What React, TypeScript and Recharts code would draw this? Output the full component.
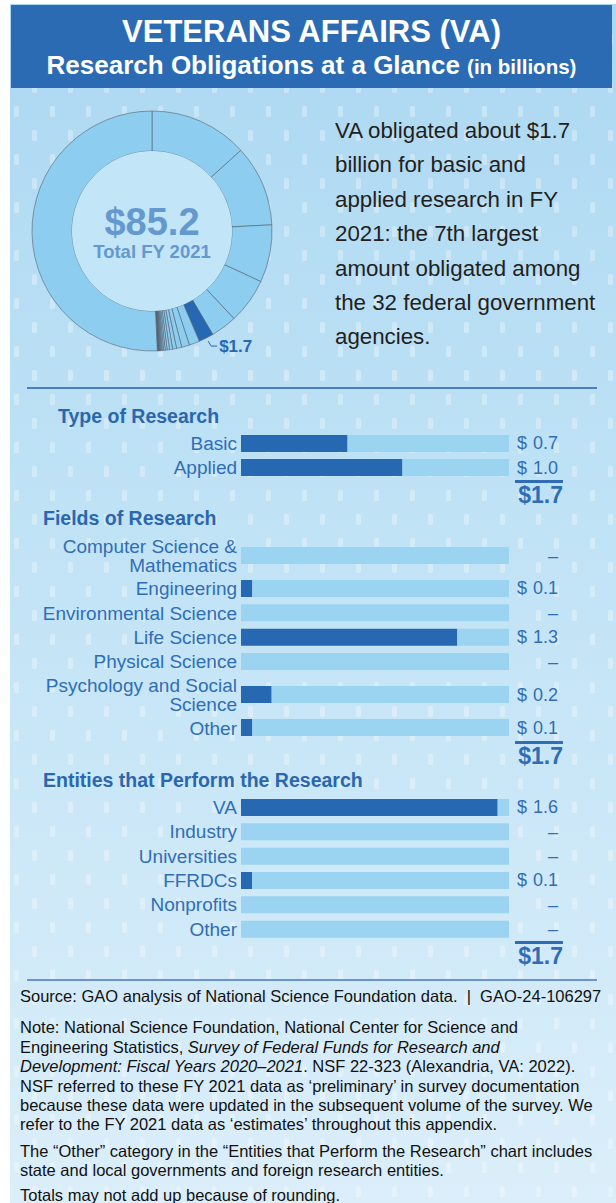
import React from 'react';
import { PieChart, Pie, Cell, BarChart, Bar, XAxis, YAxis, LabelList } from 'recharts';

// Research obligations by agency, FY 2021 ($ billions)
const agencyNames = [
  'Agency 1', 'Agency 2', 'Agency 3', 'Agency 4', 'Agency 5', 'VA', 'Agency 7', 'Agency 8',
  'Agency 9', 'Agency 10', 'Agency 11', 'Agency 12', 'Agency 13', 'Agency 14', 'Agency 15', 'Agency 16',
  'Agency 17', 'Agency 18', 'Agency 19', 'Agency 20', 'Agency 21', 'Agency 22', 'Agency 23', 'Agency 24',
  'Agency 25', 'Agency 26', 'Agency 27', 'Agency 28', 'Agency 29', 'Agency 30', 'Agency 31', 'Agency 32',
];
const agencyValues = [
  11.3, 9.3, 6.6, 5.2, 3.0, 1.7, 1.2, 0.9,
  0.6, 0.45, 0.35, 0.28, 0.22, 0.18, 0.14, 0.11,
  0.09, 0.07, 0.06, 0.05, 0.04, 0.03, 0.03, 0.02,
  0.02, 0.015, 0.01, 0.01, 0.01, 0.005, 0.005, 43.2,
];
const VA_INDEX = 5;

// VA breakdowns ($ billions)
const vaTotal = 1.66;
const typeNames = ['Basic', 'Applied'];
const typeValues = [0.66, 1.0];

const fieldNames = [
  'Computer Science & Mathematics', 'Engineering', 'Environmental Science', 'Life Science',
  'Physical Science', 'Psychology and Social Science', 'Other',
];
const fieldValues = [0, 0.07, 0, 1.34, 0, 0.19, 0.07];

const entityNames = ['VA', 'Industry', 'Universities', 'FFRDCs', 'Nonprofits', 'Other'];
const entityValues = [1.59, 0, 0, 0.07, 0, 0];

const FONT = '"Liberation Sans", Arial, Helvetica, sans-serif';
const DARK = '#2668b1';
const TRACK = '#9ad4f0';
const LABEL = '#2f6eb6';
const HEAD = '#2a67ae';
const RING = '#8dcdef';
const RAD = Math.PI / 180;

const pattern =
  "url(\"data:image/svg+xml,%3Csvg xmlns='http://www.w3.org/2000/svg' width='36' height='48'%3E" +
  "%3Crect x='4' y='6' width='5' height='11' rx='1.5' fill='white' fill-opacity='0.3'/%3E" +
  "%3Crect x='22' y='30' width='5' height='11' rx='1.5' fill='white' fill-opacity='0.3'/%3E%3C/svg%3E\")";

const sum = (arr: number[]) => arr.reduce((a, b) => a + b, 0);

const NameTick = (props: any) => {
  const { x, y, payload } = props;
  const name: string = payload.value;
  let lines = [name];
  if (name.length > 24) {
    const cut = name.lastIndexOf(' ');
    lines = [name.slice(0, cut), name.slice(cut + 1)];
  }
  const lh = 18.5;
  const start = y - ((lines.length - 1) * lh) / 2;
  return (
    <text x={x} y={start} textAnchor="end" dominantBaseline="central" fill={LABEL} fontSize={19} fontFamily={FONT}>
      {lines.map((l, i) => (
        <tspan key={i} x={x} dy={i === 0 ? 0 : lh}>{l}</tspan>
      ))}
    </text>
  );
};

const ValueLabel = (props: any) => {
  const x = Number(props.x), y = Number(props.y), w = Number(props.width), h = Number(props.height);
  const v = Number(props.value);
  const end = x + w;
  const cy = y + h / 2;
  if (!v) {
    return <text x={end + 49} y={cy} textAnchor="end" dominantBaseline="central" fill={LABEL} fontSize={18} fontFamily={FONT}>–</text>;
  }
  return (
    <g fill={LABEL} fontSize={18} fontFamily={FONT}>
      <text x={end + 8} y={cy} dominantBaseline="central">$</text>
      <text x={end + 49} y={cy} textAnchor="end" dominantBaseline="central">{v.toFixed(1)}</text>
    </g>
  );
};

// top = where the first row band starts; pad keeps two-line labels inside the svg
function BarRows({ names, values, pitch, top }: { names: string[]; values: number[]; pitch: number; top: number }) {
  const rows = names.map((name, i) => ({ name, value: values[i], rest: Math.max(vaTotal - values[i], 0) }));
  const pad = 8;
  const h = rows.length * pitch + pad * 2;
  return (
    <div style={{ position: 'absolute', left: 0, top: top - pad, width: 616, height: h }}>
      <BarChart width={616} height={h} data={rows} layout="vertical"
        margin={{ top: pad, right: 107, bottom: pad, left: 0 }}>
        <XAxis type="number" hide domain={[0, vaTotal]} />
        <YAxis type="category" dataKey="name" width={241} axisLine={false} tickLine={false}
          tickSize={0} tickMargin={4} interval={0} tick={NameTick} />
        <Bar dataKey="value" stackId="a" fill={DARK} barSize={17} isAnimationActive={false} />
        <Bar dataKey="rest" stackId="a" fill={TRACK} barSize={17} isAnimationActive={false}>
          <LabelList dataKey="value" content={ValueLabel} />
        </Bar>
      </BarChart>
    </div>
  );
}

const Heading = ({ text, left, cy }: { text: string; left: number; cy: number }) => (
  <div style={{ position: 'absolute', left, top: cy - 12, lineHeight: '24px', fontSize: 19.5, fontWeight: 'bold', color: HEAD, whiteSpace: 'nowrap' }}>
    {text}
  </div>
);

const Total = ({ values, lineY }: { values: number[]; lineY: number }) => (
  <>
    <div style={{ position: 'absolute', left: 515, top: lineY - 1.5, width: 48, height: 3, background: LABEL }} />
    <div style={{ position: 'absolute', left: 500, top: lineY + 1, width: 63, textAlign: 'right', lineHeight: '26px', fontSize: 23, fontWeight: 'bold', color: LABEL }}>
      ${sum(values).toFixed(1)}
    </div>
  </>
);

const vaLabel = (props: any) => {
  const { cx, cy, midAngle, outerRadius, index } = props;
  if (index !== VA_INDEX) return null;
  const x0 = cx + outerRadius * Math.cos(-midAngle * RAD);
  const y0 = cy + outerRadius * Math.sin(-midAngle * RAD);
  return (
    <g>
      <polyline points={`${x0 + 2},${y0 + 3} ${x0 + 5},${y0 + 8} ${x0 + 11},${y0 + 8}`} fill="none" stroke={DARK} strokeWidth={1} />
      <text x={x0 + 13} y={y0 + 8} dominantBaseline="central" fill={DARK} fontSize={17} fontWeight="bold" fontFamily={FONT}>
        ${agencyValues[VA_INDEX].toFixed(1)}
      </text>
    </g>
  );
};

export default function App() {
  const pieData = agencyNames.map((name, i) => ({ name, value: agencyValues[i] }));
  const total = sum(agencyValues);
  return (
    <div style={{ position: 'absolute', left: 0, top: 0, width: 616, height: 1203, overflow: 'hidden', background: '#fff', fontFamily: FONT }}>
      <div style={{ position: 'absolute', left: 10, top: 4, width: 606, height: 1199, backgroundImage: `${pattern}, linear-gradient(180deg, #acd8f2 0%, #c3e4f6 50%, #dbeefa 100%)` }} />

      <div style={{ position: 'absolute', left: 11, top: 5, width: 601, height: 83, background: '#2a6bb4', color: '#fff', textAlign: 'center', fontWeight: 'bold' }}>
        <div style={{ position: 'absolute', left: 0, right: 0, top: 9, fontSize: 31, lineHeight: '36px' }}>VETERANS AFFAIRS (VA)</div>
        <div style={{ position: 'absolute', left: 0, right: 0, top: 45, fontSize: 26, lineHeight: '30px', whiteSpace: 'nowrap' }}>
          Research Obligations at a Glance <span style={{ fontSize: 20.5 }}>(in billions)</span>
        </div>
      </div>

      <div style={{ position: 'absolute', left: 2, top: 81, width: 300, height: 300 }}>
        <PieChart width={300} height={300} margin={{ top: 0, right: 0, bottom: 0, left: 0 }}>
          <Pie data={pieData} dataKey="value" cx={150} cy={150} innerRadius={80} outerRadius={120}
            startAngle={90} endAngle={-270} stroke="#56626e" strokeWidth={0.6}
            label={vaLabel} labelLine={false} isAnimationActive={false}>
            {pieData.map((d, i) => (
              <Cell key={d.name} fill={i === VA_INDEX ? DARK : RING} />
            ))}
          </Pie>
          <Pie data={[{ name: 'total', value: total }]} dataKey="value" cx={150} cy={150} innerRadius={0} outerRadius={80}
            stroke="none" fill="#c2e5f7" isAnimationActive={false} />
        </PieChart>
      </div>
      <div style={{ position: 'absolute', left: 52, width: 200, top: 200, textAlign: 'center', color: '#6399cf', fontWeight: 'bold' }}>
        <div style={{ fontSize: 38, lineHeight: '44px' }}>${total.toFixed(1)}</div>
        <div style={{ fontSize: 18.5, lineHeight: '20px', marginTop: -2 }}>Total FY 2021</div>
      </div>

      <div style={{ position: 'absolute', left: 335, top: 114, fontSize: 22.3, lineHeight: '34.4px', color: '#231f20', whiteSpace: 'nowrap' }}>
        VA obligated about $1.7<br />billion for basic and<br />applied research in FY<br />2021: the 7th largest<br />
        amount obligated among<br />the 32 federal government<br />agencies.
      </div>

      <div style={{ position: 'absolute', left: 27, top: 387, width: 570, height: 2, background: '#4d80c2' }} />

      <Heading text="Type of Research" left={58} cy={416} />
      <BarRows names={typeNames} values={typeValues} pitch={24.1} top={430.6} />
      <Total values={typeValues} lineY={481} />

      <Heading text="Fields of Research" left={43} cy={518} />
      <BarRows names={fieldNames.slice(0, 1)} values={fieldValues.slice(0, 1)} pitch={33} top={539} />
      <BarRows names={fieldNames.slice(1, 5)} values={fieldValues.slice(1, 5)} pitch={24.35} top={575.8} />
      <BarRows names={fieldNames.slice(5)} values={fieldValues.slice(5)} pitch={33} top={677.5} />
      <Total values={fieldValues} lineY={742} />

      <Heading text="Entities that Perform the Research" left={43} cy={780} />
      <BarRows names={entityNames} values={entityValues} pitch={24.33} top={794.5} />
      <Total values={entityValues} lineY={942} />

      <div style={{ position: 'absolute', left: 27, top: 979, width: 570, height: 2, background: '#6b94cc' }} />

      <div style={{ position: 'absolute', left: 20, top: 987, width: 596, fontSize: 16.5, lineHeight: '19.4px', color: '#111', whiteSpace: 'nowrap' }}>
        <div>Source: GAO analysis of National Science Foundation data.&nbsp; |&nbsp; GAO-24-106297</div>
        <div style={{ marginTop: 12 }}>
          Note: National Science Foundation, National Center for Science and<br />
          Engineering Statistics, <i>Survey of Federal Funds for Research and</i><br />
          <i>Development: Fiscal Years 2020–2021</i>. NSF 22-323 (Alexandria, VA: 2022).<br />
          NSF referred to these FY 2021 data as ‘preliminary’ in survey documentation<br />
          because these data were updated in the subsequent volume of the survey. We<br />
          refer to the FY 2021 data as ‘estimates’ throughout this appendix.
        </div>
        <div style={{ marginTop: 7 }}>
          The “Other” category in the “Entities that Perform the Research” chart includes<br />
          state and local governments and foreign research entities.
        </div>
        <div style={{ marginTop: 5 }}>Totals may not add up because of rounding.</div>
      </div>
    </div>
  );
}
